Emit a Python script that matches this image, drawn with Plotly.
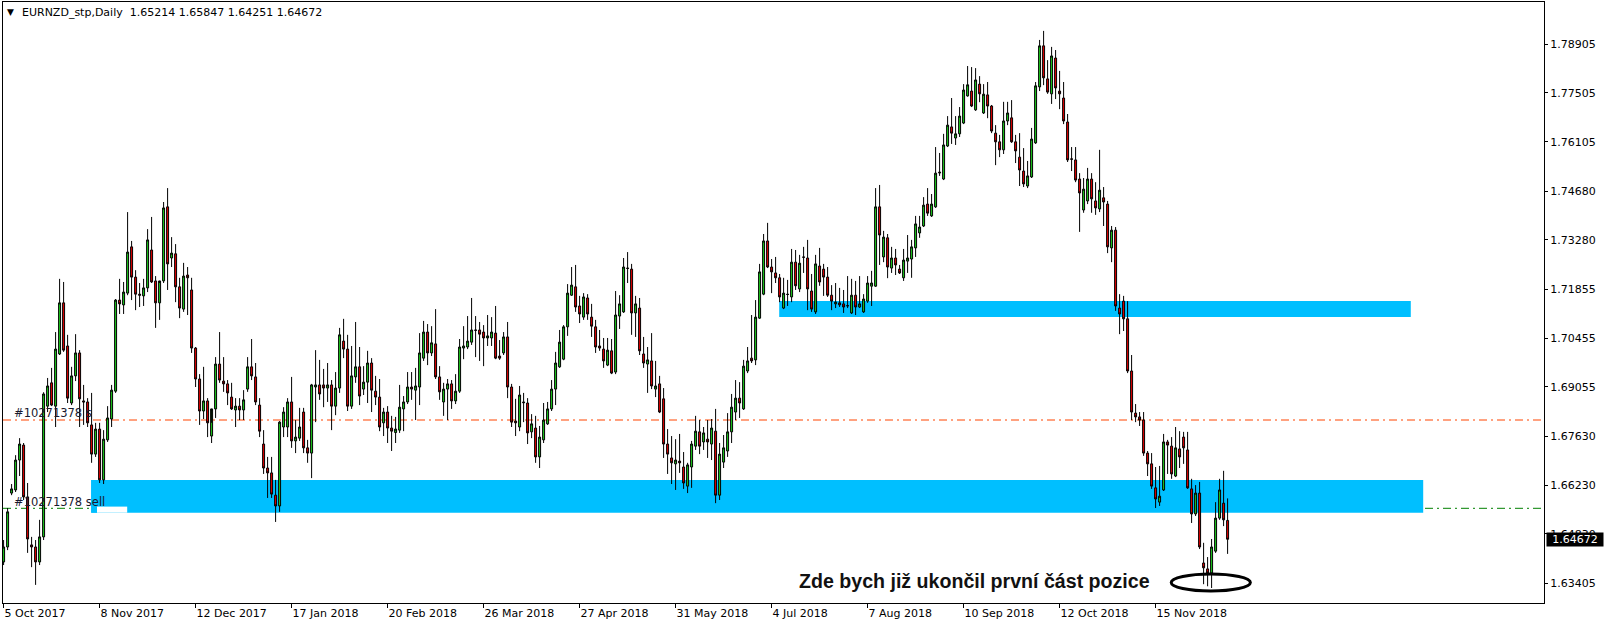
import plotly.graph_objects as go

# ---------------- data ----------------
tick_bars = [0, 24, 48, 72, 96, 120, 144, 168, 192, 216, 240, 264, 288]
tick_dates = ["5 Oct 2017", "8 Nov 2017", "12 Dec 2017", "17 Jan 2018", "20 Feb 2018",
              "26 Mar 2018", "27 Apr 2018", "31 May 2018", "4 Jul 2018", "7 Aug 2018",
              "10 Sep 2018", "12 Oct 2018", "15 Nov 2018"]
price_ticks = [1.78905, 1.77505, 1.76105, 1.74680, 1.73280, 1.71855, 1.70455,
               1.69055, 1.67630, 1.66230, 1.64830, 1.63405]

opens = [
 1.6402,1.6445,1.6600,1.6609,1.6695,1.6738,1.6589,1.6451,1.6445,1.6402,
 1.6474,1.6850,1.6917,1.6850,1.7000,1.7147,1.7023,1.6859,1.6937,1.7003,
 1.6865,1.6862,1.6796,1.6712,1.6784,1.6638,1.6753,1.6813,1.6893,1.7155,
 1.7141,1.7175,1.7308,1.7221,1.7172,1.7167,1.7190,1.7299,1.7210,1.7147,
 1.7210,1.7423,1.7276,1.7288,1.7193,1.7129,1.7227,1.7184,1.7017,1.6928,
 1.6836,1.6865,1.6764,1.6842,1.6971,1.6922,1.6914,1.6876,1.6839,1.6850,
 1.6839,1.6899,1.6963,1.6934,1.6853,1.6741,1.6672,1.6658,1.6594,1.6563,
 1.6790,1.6790,1.6862,1.6750,1.6758,1.6833,1.6730,1.6715,1.6905,1.6911,
 1.6911,1.6902,1.6911,1.6850,1.6902,1.7037,1.7014,1.6850,1.6934,1.6963,
 1.6899,1.6919,1.6974,1.6893,1.6876,1.6802,1.6833,1.6787,1.6774,1.6781,
 1.6842,1.6862,1.6905,1.6896,1.6905,1.6988,1.7063,1.7003,1.7029,1.6934,
 1.6862,1.6899,1.6914,1.6865,1.6893,1.7017,1.7020,1.7034,1.7069,1.7069,
 1.7063,1.7046,1.7046,1.7060,1.6994,1.7003,1.7049,1.6905,1.6807,1.6790,
 1.6862,1.6859,1.6776,1.6787,1.6704,1.6753,1.6799,1.6842,1.6899,1.6963,
 1.6985,1.7078,1.7169,1.7193,1.7138,1.7106,1.7161,1.7106,1.7078,1.7023,
 1.7014,1.6968,1.7009,1.6948,1.7109,1.7121,1.7247,1.7244,1.7118,1.7132,
 1.7000,1.6971,1.6980,1.6899,1.6914,1.6871,1.6741,1.6701,1.6684,1.6692,
 1.6675,1.6620,1.6675,1.6735,1.6776,1.6747,1.6755,1.6741,1.6778,1.6594,
 1.6689,1.6721,1.6776,1.6833,1.6873,1.6842,1.6951,1.6988,1.6983,1.7103,
 1.7172,1.7325,1.7250,1.7233,1.7219,1.7132,1.7172,1.7164,1.7264,1.7187,
 1.7279,1.7276,1.7181,1.7121,1.7253,1.7244,1.7221,1.7169,1.7144,1.7147,
 1.7144,1.7138,1.7118,1.7169,1.7135,1.7121,1.7152,1.7195,1.7195,1.7423,
 1.7279,1.7334,1.7247,1.7276,1.7244,1.7219,1.7267,1.7273,1.7305,1.7348,
 1.7368,1.7431,1.7397,1.7423,1.7523,1.7503,1.7598,1.7653,1.7621,1.7633,
 1.7664,1.7742,1.7756,1.7702,1.7776,1.7693,1.7745,1.7713,1.7635,1.7610,
 1.7587,1.7670,1.7679,1.7610,1.7566,1.7526,1.7483,1.7509,1.7607,1.7768,
 1.7886,1.7791,1.7748,1.7851,1.7756,1.7736,1.7667,1.7561,1.7558,1.7503,
 1.7414,1.7440,1.7503,1.7440,1.7417,1.7449,1.7431,1.7305,1.7356,1.7132,
 1.7152,1.7101,1.6951,1.6830,1.6819,1.6810,1.6715,1.6684,1.6615,1.6574,
 1.6609,1.6747,1.6735,1.6649,1.6727,1.6761,1.6724,1.6612,1.6540,1.6600,
 1.6399,1.6382,1.6370,1.6433,1.6528,1.6571,1.65214]

highs = [
 1.6465,1.6557,1.6626,1.6709,1.6758,1.6744,1.6629,1.6474,1.6465,1.6523,
 1.6890,1.6931,1.6960,1.7063,1.7216,1.7207,1.7055,1.6963,1.7057,1.7011,
 1.6911,1.6873,1.6888,1.6802,1.6802,1.6781,1.6850,1.6911,1.7158,1.7216,
 1.7207,1.7408,1.7325,1.7241,1.7204,1.7216,1.7359,1.7394,1.7224,1.7204,
 1.7437,1.7477,1.7336,1.7316,1.7219,1.7262,1.7250,1.7219,1.7020,1.6942,
 1.6963,1.6873,1.6802,1.6991,1.7063,1.6991,1.6925,1.6917,1.6873,1.6873,
 1.6896,1.6991,1.7043,1.6974,1.6873,1.6781,1.6704,1.6704,1.6638,1.6807,
 1.6847,1.6873,1.6934,1.6810,1.6845,1.6845,1.6753,1.6914,1.7011,1.6983,
 1.6957,1.6974,1.6925,1.6948,1.7075,1.7101,1.7055,1.7023,1.7092,1.7020,
 1.6965,1.7009,1.6988,1.6937,1.6928,1.6845,1.6850,1.6822,1.6819,1.6911,
 1.6879,1.6948,1.6948,1.6960,1.7060,1.7095,1.7086,1.7080,1.7129,1.6965,
 1.6917,1.6928,1.6925,1.6942,1.7043,1.7080,1.7109,1.7161,1.7109,1.7092,
 1.7083,1.7112,1.7106,1.7138,1.7040,1.7063,1.7092,1.6914,1.6871,1.6908,
 1.6888,1.6873,1.6827,1.6822,1.6793,1.6859,1.6862,1.6925,1.7006,1.7069,
 1.7083,1.7201,1.7250,1.7256,1.7167,1.7175,1.7172,1.7144,1.7098,1.7069,
 1.7046,1.7046,1.7043,1.7181,1.7169,1.7276,1.7293,1.7259,1.7167,1.7161,
 1.7049,1.7020,1.7060,1.6980,1.6937,1.6902,1.6784,1.6764,1.6755,1.6770,
 1.6718,1.6687,1.6750,1.6822,1.6810,1.6790,1.6810,1.6813,1.6842,1.6744,
 1.6767,1.6830,1.6885,1.6925,1.6919,1.6983,1.7020,1.7112,1.7155,1.7259,
 1.7345,1.7377,1.7273,1.7279,1.7230,1.7219,1.7213,1.7302,1.7299,1.7285,
 1.7308,1.7328,1.7230,1.7285,1.7305,1.7259,1.7250,1.7198,1.7204,1.7190,
 1.7184,1.7224,1.7216,1.7210,1.7224,1.7172,1.7224,1.7239,1.7477,1.7486,
 1.7354,1.7345,1.7308,1.7302,1.7256,1.7302,1.7342,1.7328,1.7397,1.7397,
 1.7451,1.7477,1.7460,1.7595,1.7578,1.7633,1.7684,1.7736,1.7684,1.7710,
 1.7776,1.7828,1.7825,1.7822,1.7799,1.7776,1.7782,1.7716,1.7658,1.7630,
 1.7725,1.7725,1.7730,1.7630,1.7635,1.7592,1.7555,1.7650,1.7782,1.7903,
 1.7929,1.7845,1.7883,1.7874,1.7814,1.7782,1.7690,1.7595,1.7595,1.7520,
 1.7506,1.7535,1.7520,1.7494,1.7587,1.7480,1.7440,1.7368,1.7365,1.7172,
 1.7167,1.7152,1.6997,1.6856,1.6833,1.6833,1.6721,1.6715,1.6675,1.6678,
 1.6770,1.6753,1.6761,1.6790,1.6778,1.6776,1.6776,1.6641,1.6623,1.6632,
 1.6457,1.6416,1.6468,1.6574,1.6641,1.6664,1.65847]

lows = [
 1.6393,1.6436,1.6594,1.6603,1.6649,1.6580,1.6428,1.6387,1.6336,1.6393,
 1.6465,1.6833,1.6850,1.6790,1.6997,1.7006,1.6859,1.6853,1.6922,1.6790,
 1.6796,1.6790,1.6687,1.6704,1.6629,1.6626,1.6747,1.6790,1.6888,1.7115,
 1.7115,1.7169,1.7155,1.7126,1.7135,1.7138,1.7178,1.7204,1.7075,1.7098,
 1.7204,1.7184,1.7250,1.7149,1.7103,1.7121,1.7112,1.7003,1.6905,1.6796,
 1.6813,1.6761,1.6744,1.6816,1.6917,1.6891,1.6853,1.6839,1.6790,1.6810,
 1.6810,1.6891,1.6925,1.6853,1.6761,1.6655,1.6586,1.6586,1.6517,1.6546,
 1.6761,1.6761,1.6730,1.6715,1.6750,1.6715,1.6687,1.6643,1.6804,1.6868,
 1.6847,1.6862,1.6781,1.6824,1.6888,1.6988,1.6836,1.6842,1.6917,1.6853,
 1.6882,1.6859,1.6833,1.6853,1.6778,1.6764,1.6744,1.6721,1.6744,1.6773,
 1.6778,1.6856,1.6868,1.6810,1.6853,1.6980,1.6968,1.6994,1.6928,1.6868,
 1.6822,1.6810,1.6842,1.6856,1.6888,1.6985,1.7014,1.7026,1.6991,1.6980,
 1.6965,1.7023,1.7023,1.6985,1.6983,1.6997,1.6873,1.6790,1.6764,1.6778,
 1.6804,1.6741,1.6758,1.6687,1.6672,1.6744,1.6796,1.6836,1.6853,1.6960,
 1.6982,1.7052,1.7167,1.7121,1.7089,1.7098,1.7098,1.7049,1.7003,1.7009,
 1.6960,1.6965,1.6942,1.6942,1.7072,1.7118,1.7204,1.7055,1.7049,1.6997,
 1.6960,1.6888,1.6899,1.6876,1.6830,1.6701,1.6655,1.6626,1.6609,1.6658,
 1.6612,1.6600,1.6615,1.6724,1.6712,1.6724,1.6701,1.6695,1.6571,1.6580,
 1.6672,1.6704,1.6744,1.6810,1.6816,1.6839,1.6945,1.6974,1.6968,1.7101,
 1.7169,1.7247,1.7175,1.7204,1.7149,1.7129,1.7138,1.7149,1.7184,1.7178,
 1.7233,1.7126,1.7121,1.7115,1.7196,1.7167,1.7164,1.7126,1.7132,1.7135,
 1.7118,1.7132,1.7115,1.7112,1.7132,1.7118,1.7147,1.7138,1.7193,1.7256,
 1.7264,1.7218,1.7233,1.7227,1.7230,1.7210,1.7233,1.7219,1.7279,1.7334,
 1.7365,1.7397,1.7394,1.7420,1.7512,1.7500,1.7595,1.7604,1.7601,1.7624,
 1.7661,1.7740,1.7710,1.7699,1.7724,1.7690,1.7678,1.7635,1.7543,1.7566,
 1.7575,1.7658,1.7607,1.7549,1.7483,1.7480,1.7477,1.7506,1.7604,1.7756,
 1.7773,1.7748,1.7719,1.7733,1.7704,1.7661,1.7552,1.7526,1.7494,1.7351,
 1.7406,1.7431,1.7406,1.7400,1.7408,1.7368,1.7290,1.7264,1.7124,1.7057,
 1.7066,1.6945,1.6810,1.6804,1.6793,1.6707,1.6649,1.6612,1.6557,1.6563,
 1.6606,1.6655,1.6641,1.6646,1.6672,1.6684,1.6612,1.6514,1.6534,1.6439,
 1.6338,1.6332,1.6327,1.6428,1.6523,1.6505,1.64251]

closes = [
 1.6445,1.6546,1.6612,1.6695,1.6741,1.6589,1.6468,1.6445,1.6402,1.6474,
 1.6885,1.6908,1.6853,1.7014,1.7147,1.7011,1.6873,1.6937,1.7003,1.6871,
 1.6862,1.6802,1.6712,1.6784,1.6638,1.6755,1.6816,1.6896,1.7155,1.7144,
 1.7178,1.7293,1.7221,1.7172,1.7169,1.7190,1.7328,1.7207,1.7147,1.7210,
 1.7420,1.7259,1.7290,1.7193,1.7132,1.7224,1.7219,1.7017,1.6928,1.6836,
 1.6865,1.6802,1.6842,1.6971,1.6925,1.6914,1.6888,1.6842,1.6850,1.6839,
 1.6868,1.6963,1.6937,1.6862,1.6778,1.6672,1.6658,1.6597,1.6563,1.6804,
 1.6833,1.6862,1.6750,1.6761,1.6790,1.6730,1.6715,1.6911,1.6911,1.6885,
 1.6902,1.6911,1.6850,1.6902,1.7055,1.7014,1.6850,1.6937,1.6963,1.6879,
 1.6919,1.6974,1.6896,1.6876,1.6790,1.6833,1.6787,1.6778,1.6784,1.6847,
 1.6862,1.6905,1.6899,1.6908,1.7003,1.7063,1.7003,1.7032,1.6934,1.6891,
 1.6899,1.6914,1.6865,1.6893,1.7020,1.7023,1.7037,1.7069,1.7068,1.7057,
 1.7046,1.7052,1.7063,1.6988,1.6988,1.7049,1.6905,1.6804,1.6802,1.6882,
 1.6860,1.6773,1.6799,1.6704,1.6761,1.6810,1.6842,1.6899,1.6974,1.7034,
 1.7078,1.7175,1.7198,1.7135,1.7115,1.7164,1.7115,1.7080,1.7020,1.7017,
 1.6980,1.7011,1.6945,1.7112,1.7144,1.7250,1.7246,1.7118,1.7144,1.7009,
 1.6974,1.6983,1.6908,1.6908,1.6833,1.6741,1.6712,1.6687,1.6695,1.6687,
 1.6629,1.6681,1.6741,1.6778,1.6735,1.6773,1.6747,1.6787,1.6594,1.6712,
 1.6730,1.6776,1.6847,1.6873,1.6859,1.6965,1.6980,1.6980,1.7106,1.7236,
 1.7325,1.7250,1.7236,1.7219,1.7164,1.7175,1.7171,1.7264,1.7196,1.7261,
 1.7278,1.7187,1.7129,1.7259,1.7207,1.7221,1.7169,1.7152,1.7149,1.7141,
 1.7135,1.7139,1.7169,1.7135,1.7144,1.7158,1.7204,1.7204,1.7423,1.7342,
 1.7336,1.7250,1.7276,1.7256,1.7233,1.7270,1.7276,1.7308,1.7374,1.7365,
 1.7428,1.7405,1.7431,1.7520,1.7521,1.7601,1.7658,1.7635,1.7633,1.7684,
 1.7759,1.7774,1.7713,1.7788,1.7748,1.7747,1.7713,1.7641,1.7610,1.7587,
 1.7670,1.7693,1.7610,1.7584,1.7529,1.7489,1.7512,1.7618,1.7771,1.7886,
 1.7794,1.7753,1.7857,1.7765,1.7748,1.7670,1.7558,1.7560,1.7500,1.7463,
 1.7474,1.7503,1.7446,1.7420,1.7471,1.7437,1.7308,1.7356,1.7138,1.7115,
 1.7101,1.6951,1.6833,1.6819,1.6810,1.6715,1.6684,1.6620,1.6583,1.6591,
 1.6747,1.6738,1.6655,1.6730,1.6704,1.6730,1.6615,1.6540,1.6600,1.6445,
 1.6385,1.6370,1.6445,1.6528,1.6609,1.6523,1.64672]

symbol_text = "EURNZD_stp,Daily"
ohlc_text = "1.65214 1.65847 1.64251 1.64672"
last_price = 1.64672
order_label = "#10271378 sell"
order_label_short = "#10271378 s"
stop_price = 1.68101     # red dash-dot order line
open_price = 1.65562     # green dash-dot order line
note_text = "Zde bych již ukončil první část pozice"

# zones (bar index / price)
upper_zone = dict(x0=193.9, x1=351.8, y0=1.71063, y1=1.71523)
lower_zone = dict(x0=21.9, x1=354.9, y0=1.65436, y1=1.66376)
notch = dict(x0=23.35, x1=30.9, y0=1.65436, y1=1.65611)
ellipse = dict(x0=291.9, x1=311.7, y0=1.63184, y1=1.63673)

# ---------------- figure ----------------
W, H = 1604, 626
ML, MR, MT, MB = 3, 60, 2, 23
PW, PH = W - ML - MR, H - MT - MB
X_RANGE = [-0.15, -0.15 + PW / 4.0]
Y_RANGE = [1.62839, 1.80121]

def px(xpix):
    return (xpix - ML) / PW

def py(ypix):
    return (H - MB - ypix) / PH

GREEN = "#1ED01E"
RED = "#E80000"
BLUE = "#00BFFF"
FONT = "DejaVu Sans"

bars = list(range(len(opens)))

fig = go.Figure()
fig.add_trace(go.Candlestick(
    x=bars, open=opens, high=highs, low=lows, close=closes,
    increasing=dict(line=dict(color="black", width=1), fillcolor=GREEN),
    decreasing=dict(line=dict(color="black", width=1), fillcolor=RED),
    whiskerwidth=0, showlegend=False, hoverinfo="skip"))

shapes = [
    dict(type="rect", xref="x", yref="y", layer="below", line=dict(width=0),
         fillcolor=BLUE, **upper_zone),
    dict(type="rect", xref="x", yref="y", layer="below", line=dict(width=0),
         fillcolor=BLUE, **lower_zone),
    dict(type="line", xref="paper", yref="y", x0=0, x1=1, y0=stop_price, y1=stop_price,
         layer="below", line=dict(color="#FF4500", width=1, dash="8px,4px,2px,4px")),
    dict(type="line", xref="paper", yref="y", x0=0, x1=1, y0=open_price, y1=open_price,
         layer="below", line=dict(color="#008000", width=1, dash="8px,4px,2px,4px")),
    dict(type="rect", xref="x", yref="y", layer="below", line=dict(width=0),
         fillcolor="white", **notch),
    dict(type="rect", xref="x", yref="y", layer="below", line=dict(width=0),
         fillcolor=BLUE, x0=lower_zone["x0"], x1=notch["x0"],
         y0=lower_zone["y0"], y1=lower_zone["y1"]),
    dict(type="circle", xref="x", yref="y", layer="above",
         line=dict(color="black", width=3), **ellipse),
]

annotations = [
    dict(xref="paper", yref="paper", x=px(5), y=py(12.5), xanchor="left", yanchor="middle",
         text="▼", showarrow=False, font=dict(family=FONT, size=9, color="black")),
    dict(xref="paper", yref="paper", x=px(20), y=py(13), xanchor="left", yanchor="middle",
         text=symbol_text + "\u00a0\u00a0" + ohlc_text, showarrow=False,
         font=dict(family=FONT, size=11, color="black")),
    dict(xref="paper", yref="y", x=px(11.5), y=1.68303, xanchor="left", yanchor="middle",
         text=order_label_short, showarrow=False,
         font=dict(family=FONT, size=11.5, color="#1a1a2e")),
    dict(xref="paper", yref="y", x=px(11.5), y=1.65743, xanchor="left", yanchor="middle",
         text=order_label, showarrow=False,
         font=dict(family=FONT, size=11.5, color="#1a1a2e")),
    dict(xref="x", yref="y", x=198.3, y=1.63471, xanchor="left", yanchor="middle",
         text="<b>" + note_text + "</b>", showarrow=False,
         font=dict(family="Liberation Sans", size=19.6, color="#111111")),
    dict(xref="paper", yref="y", x=px(1546), y=last_price, xanchor="left", yanchor="middle",
         text=f"{last_price:.5f}", showarrow=False, bgcolor="black", borderpad=0,
         width=56, height=13, align="center",
         font=dict(family=FONT, size=11, color="white")),
]

fig.update_layout(
    width=W, height=H,
    margin=dict(l=ML, r=MR, t=MT, b=MB, pad=0),
    paper_bgcolor="white", plot_bgcolor="white",
    boxgap=0.3,
    showlegend=False,
    shapes=shapes, annotations=annotations,
    xaxis=dict(range=X_RANGE, type="linear", rangeslider=dict(visible=False),
               showgrid=False, zeroline=False, showline=True, mirror=True,
               linecolor="black", linewidth=1,
               tickmode="array", tickvals=tick_bars, ticktext=tick_dates,
               ticks="outside", ticklen=4, tickcolor="black",
               ticklabelposition="outside right",
               tickfont=dict(family=FONT, size=11, color="black")),
    yaxis=dict(range=Y_RANGE, side="right", showgrid=False, zeroline=False,
               showline=True, mirror=True, linecolor="black", linewidth=1,
               tickmode="array", tickvals=price_ticks,
               ticktext=[f"{v:.5f}" for v in price_ticks],
               ticks="outside", ticklen=3, tickcolor="black",
               tickfont=dict(family=FONT, size=11, color="black")),
)

fig.write_html("out.html", config={"displayModeBar": False, "staticPlot": True},
               post_script="document.body.style.margin='0';document.body.style.overflow='hidden';")
